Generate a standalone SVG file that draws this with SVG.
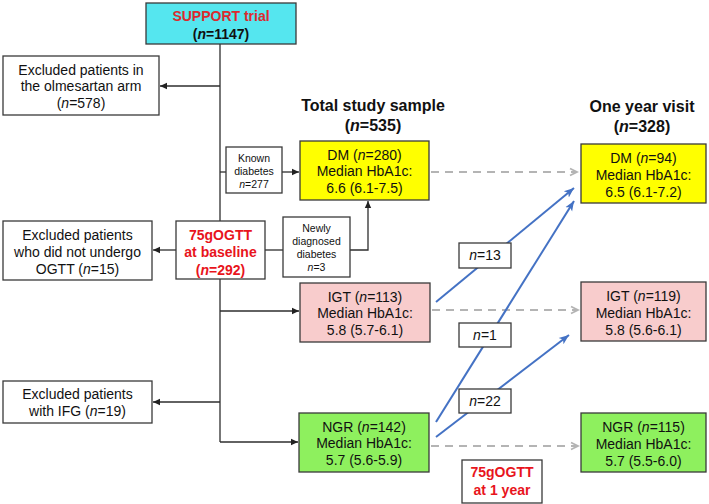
<svg xmlns="http://www.w3.org/2000/svg" width="709" height="504" viewBox="0 0 709 504">
<defs>
<marker id="ab" markerWidth="8" markerHeight="8" refX="7" refY="4" orient="auto" markerUnits="userSpaceOnUse"><path d="M0,0.8 L7,4 L0,7.2 Z" fill="#222"/></marker>
<marker id="ag" markerWidth="10" markerHeight="10" refX="8" refY="5" orient="auto" markerUnits="userSpaceOnUse"><path d="M1,1.5 L8,5 L1,8.5" fill="none" stroke="#b4b4b4" stroke-width="1.8"/></marker>
<marker id="abl" markerWidth="12" markerHeight="10" refX="10" refY="5" orient="auto" markerUnits="userSpaceOnUse"><path d="M0,1 L10,5 L0,9 L2.5,5 Z" fill="#4472c4"/></marker>
</defs>
<style>
.bx{stroke:#3a3a3a;stroke-width:1.3}
.w{fill:#fff}
.t{font-family:"Liberation Sans",Arial,sans-serif;font-size:14px;fill:#111;text-anchor:middle}
.s{font-family:"Liberation Sans",Arial,sans-serif;font-size:10.5px;fill:#111;text-anchor:middle}
.b{font-family:"Liberation Sans",Arial,sans-serif;font-size:14px;font-weight:bold;text-anchor:middle}
.h{font-family:"Liberation Sans",Arial,sans-serif;font-size:16px;font-weight:bold;fill:#111;text-anchor:middle}
.r{fill:#e8141c}
.ln{stroke:#2e2e2e;stroke-width:1.3;fill:none}
.ds{stroke:#b4b4b4;stroke-width:2;stroke-dasharray:8 6;fill:none}
.bl{stroke:#4472c4;stroke-width:2;fill:none}
</style>

<g id="connectors">
<path class="ln" d="M220,44 V221"/>
<path class="ln" d="M220,279 V442"/>
<path class="ln" d="M220,86 H160" marker-end="url(#ab)"/>
<path class="ln" d="M220,172 H226"/>
<path class="ln" d="M282,172 H299" marker-end="url(#ab)"/>
<path class="ln" d="M176,250 H153" marker-end="url(#ab)"/>
<path class="ln" d="M265,250 H283"/>
<path class="ln" d="M350,250 H368 V201" marker-end="url(#ab)"/>
<path class="ln" d="M220,311 H299" marker-end="url(#ab)"/>
<path class="ln" d="M220,402 H153" marker-end="url(#ab)"/>
<path class="ln" d="M220,442 H298" marker-end="url(#ab)"/>
<path class="ds" d="M431,172 H577" marker-end="url(#ag)"/>
<path class="ds" d="M432,310 H578" marker-end="url(#ag)"/>
<path class="ds" d="M431,446 H578" marker-end="url(#ag)"/>
<path class="bl" d="M436,302 L574,188" marker-end="url(#abl)"/>
<path class="bl" d="M436,422 L574,201" marker-end="url(#abl)"/>
<path class="bl" d="M436,437 L569,335" marker-end="url(#abl)"/>
</g>

<g id="support">
<rect class="bx" x="146" y="3" width="150" height="41" fill="#55e6ef"/>
<text class="b" x="221" y="21" fill="#dc2a2e">SUPPORT trial</text>
<text class="b" x="221" y="39" fill="#111">(<tspan font-style="italic">n</tspan>=1147)</text>
</g>

<g id="excl-olm">
<rect class="bx w" x="3" y="56" width="156" height="59"/>
<text class="t" x="81" y="75">Excluded patients in</text>
<text class="t" x="81" y="91">the olmesartan arm</text>
<text class="t" x="81" y="108">(<tspan font-style="italic">n</tspan>=578)</text>
</g>

<g id="title-total">
<text class="h" x="373" y="111">Total study sample</text>
<text class="h" x="373" y="131">(<tspan font-style="italic">n</tspan>=535)</text>
</g>

<g id="title-year">
<text class="h" x="642" y="112">One year visit</text>
<text class="h" x="642" y="132">(<tspan font-style="italic">n</tspan>=328)</text>
</g>

<g id="known">
<rect class="bx w" x="226" y="147" width="56" height="46"/>
<text class="s" x="254" y="162">Known</text>
<text class="s" x="254" y="175">diabetes</text>
<text class="s" x="254" y="188"><tspan font-style="italic">n</tspan>=277</text>
</g>

<g id="dm0">
<rect class="bx" x="300" y="141" width="129" height="59" fill="#ffff00"/>
<text class="t" x="364.5" y="160">DM (<tspan font-style="italic">n</tspan>=280)</text>
<text class="t" x="364.5" y="176">Median HbA1c:</text>
<text class="t" x="364.5" y="193">6.6 (6.1-7.5)</text>
</g>

<g id="excl-ogtt">
<rect class="bx w" x="3" y="221" width="149" height="59"/>
<text class="t" x="77.5" y="240">Excluded patients</text>
<text class="t" x="77.5" y="257">who did not undergo</text>
<text class="t" x="77.5" y="274">OGTT (<tspan font-style="italic">n</tspan>=15)</text>
</g>

<g id="ogtt0">
<rect class="bx w" x="176" y="221" width="89" height="58"/>
<text class="b r" x="220.5" y="240">75gOGTT</text>
<text class="b r" x="220.5" y="257">at baseline</text>
<text class="b r" x="220.5" y="275">(<tspan font-style="italic">n</tspan>=292)</text>
</g>

<g id="newly">
<rect class="bx w" x="283" y="217" width="67" height="60"/>
<text class="s" x="316.5" y="232">Newly</text>
<text class="s" x="316.5" y="245">diagnosed</text>
<text class="s" x="316.5" y="258">diabetes</text>
<text class="s" x="316.5" y="271"><tspan font-style="italic">n</tspan>=3</text>
</g>

<g id="igt0">
<rect class="bx" x="300" y="283" width="130" height="59" fill="#f8cccc"/>
<text class="t" x="365" y="302">IGT (<tspan font-style="italic">n</tspan>=113)</text>
<text class="t" x="365" y="318">Median HbA1c:</text>
<text class="t" x="365" y="335">5.8 (5.7-6.1)</text>
</g>

<g id="excl-ifg">
<rect class="bx w" x="3" y="381" width="149" height="42"/>
<text class="t" x="77.5" y="399">Excluded patients</text>
<text class="t" x="77.5" y="416">with IFG (<tspan font-style="italic">n</tspan>=19)</text>
</g>

<g id="ngr0">
<rect class="bx" x="299" y="413" width="130" height="59" fill="#8ef05e"/>
<text class="t" x="364" y="432">NGR (<tspan font-style="italic">n</tspan>=142)</text>
<text class="t" x="364" y="448">Median HbA1c:</text>
<text class="t" x="364" y="465">5.7 (5.6-5.9)</text>
</g>

<g id="dm1">
<rect class="bx" x="581" y="144" width="125" height="59" fill="#ffff00"/>
<text class="t" x="643.5" y="163">DM (<tspan font-style="italic">n</tspan>=94)</text>
<text class="t" x="643.5" y="180">Median HbA1c:</text>
<text class="t" x="643.5" y="197">6.5 (6.1-7.2)</text>
</g>

<g id="igt1">
<rect class="bx" x="581" y="282" width="125" height="59" fill="#f8cccc"/>
<text class="t" x="643.5" y="301">IGT (<tspan font-style="italic">n</tspan>=119)</text>
<text class="t" x="643.5" y="318">Median HbA1c:</text>
<text class="t" x="643.5" y="335">5.8 (5.6-6.1)</text>
</g>

<g id="ngr1">
<rect class="bx" x="581" y="413" width="125" height="59" fill="#8ef05e"/>
<text class="t" x="643.5" y="432">NGR (<tspan font-style="italic">n</tspan>=115)</text>
<text class="t" x="643.5" y="449">Median HbA1c:</text>
<text class="t" x="643.5" y="466">5.7 (5.5-6.0)</text>
</g>

<g id="lbl13">
<rect class="bx w" x="459" y="243" width="52" height="25"/>
<text class="t" x="485" y="260"><tspan font-style="italic">n</tspan>=13</text>
</g>
<g id="lbl1">
<rect class="bx w" x="459" y="323" width="52" height="24"/>
<text class="t" x="485" y="340"><tspan font-style="italic">n</tspan>=1</text>
</g>
<g id="lbl22">
<rect class="bx w" x="459" y="389" width="52" height="24"/>
<text class="t" x="485" y="406"><tspan font-style="italic">n</tspan>=22</text>
</g>

<g id="ogtt1">
<rect class="bx w" x="462" y="460" width="80" height="43"/>
<text class="b r" x="502" y="477">75gOGTT</text>
<text class="b r" x="502" y="495">at 1 year</text>
</g>
</svg>
